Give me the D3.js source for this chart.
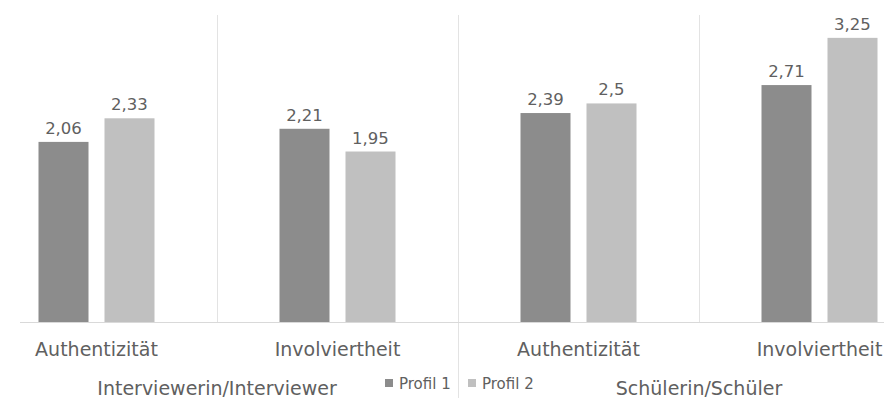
<!DOCTYPE html>
<html>
<head>
<meta charset="utf-8">
<script src="https://cdn.jsdelivr.net/npm/d3@7"></script>
<style>
  html, body { margin: 0; padding: 0; background: #fff; }
  svg { display: block; }
  text { font-family: "DejaVu Sans", sans-serif; fill: #606060; }
</style>
</head>
<body>
<svg id="chart" width="884" height="398"></svg>
<script>
const groups = ["Interviewerin/Interviewer", "Schülerin/Schüler"];
const subcats = ["Authentizität", "Involviertheit"];
const series = ["Profil 1", "Profil 2"];
const profil1 = [2.06, 2.21, 2.39, 2.71];
const profil2 = [2.33, 1.95, 2.5, 3.25];
const colors = ["#8c8c8c", "#c0c0c0"];

const cats = [];
groups.forEach(g => subcats.forEach(s => cats.push({ group: g, sub: s, key: g + "|" + s })));
const values = [profil1, profil2];

const svg = d3.select("#chart");
const W = 884, H = 398;
const baseY = 322;

const y = d3.scaleLinear().domain([0, 3.5]).range([baseY, 16]);
const x0 = d3.scaleBand().domain(cats.map(c => c.key)).range([-24, 940]).padding(0);
const x1 = d3.scaleBand().domain(series).range([0, x0.bandwidth()])
  .paddingInner(0.2424).paddingOuter(0.947);
const xg = d3.scaleBand().domain(groups).range([-24, 940]).padding(0);

// separators
cats.forEach((c, i) => {
  if (i === 0) return;
  const xx = Math.round(x0(c.key)) + 0.5;
  const isGroup = i % subcats.length === 0;
  svg.append("line")
    .attr("x1", xx).attr("x2", xx)
    .attr("y1", 15).attr("y2", isGroup ? H : baseY)
    .attr("stroke", "#e3e3e3").attr("stroke-width", 1);
});

// baseline
svg.append("line")
  .attr("x1", 20).attr("x2", W).attr("y1", baseY + 0.5).attr("y2", baseY + 0.5)
  .attr("stroke", "#d9d9d9").attr("stroke-width", 1);

// bars
series.forEach((s, si) => {
  const g = svg.append("g");
  g.selectAll("rect").data(cats).join("rect")
    .attr("x", c => x0(c.key) + x1(s))
    .attr("width", x1.bandwidth())
    .attr("y", (c, i) => y(values[si][i]))
    .attr("height", (c, i) => baseY - y(values[si][i]))
    .attr("fill", colors[si]);
  g.selectAll("text").data(cats).join("text")
    .attr("x", c => x0(c.key) + x1(s) + x1.bandwidth() / 2)
    .attr("y", (c, i) => y(values[si][i]) - 8)
    .attr("text-anchor", "middle")
    .attr("font-size", "16.5px")
    .text((c, i) => String(values[si][i]).replace(".", ","));
});

// category labels
svg.append("g").selectAll("text").data(cats).join("text")
  .attr("x", c => x0(c.key) + x0.bandwidth() / 2)
  .attr("y", 356)
  .attr("text-anchor", "middle")
  .attr("font-size", "19px")
  .text(c => c.sub);

// group labels
svg.append("g").selectAll("text").data(groups).join("text")
  .attr("x", g => xg(g) + xg.bandwidth() / 2)
  .attr("y", 395)
  .attr("text-anchor", "middle")
  .attr("font-size", "19px")
  .text(g => g);

// legend
const legendX = [385, 468];
series.forEach((s, si) => {
  svg.append("rect")
    .attr("x", legendX[si]).attr("y", 379)
    .attr("width", 8).attr("height", 8)
    .attr("fill", colors[si]);
  svg.append("text")
    .attr("x", legendX[si] + 14).attr("y", 389)
    .attr("font-size", "15px")
    .text(s);
});
</script>
</body>
</html>
